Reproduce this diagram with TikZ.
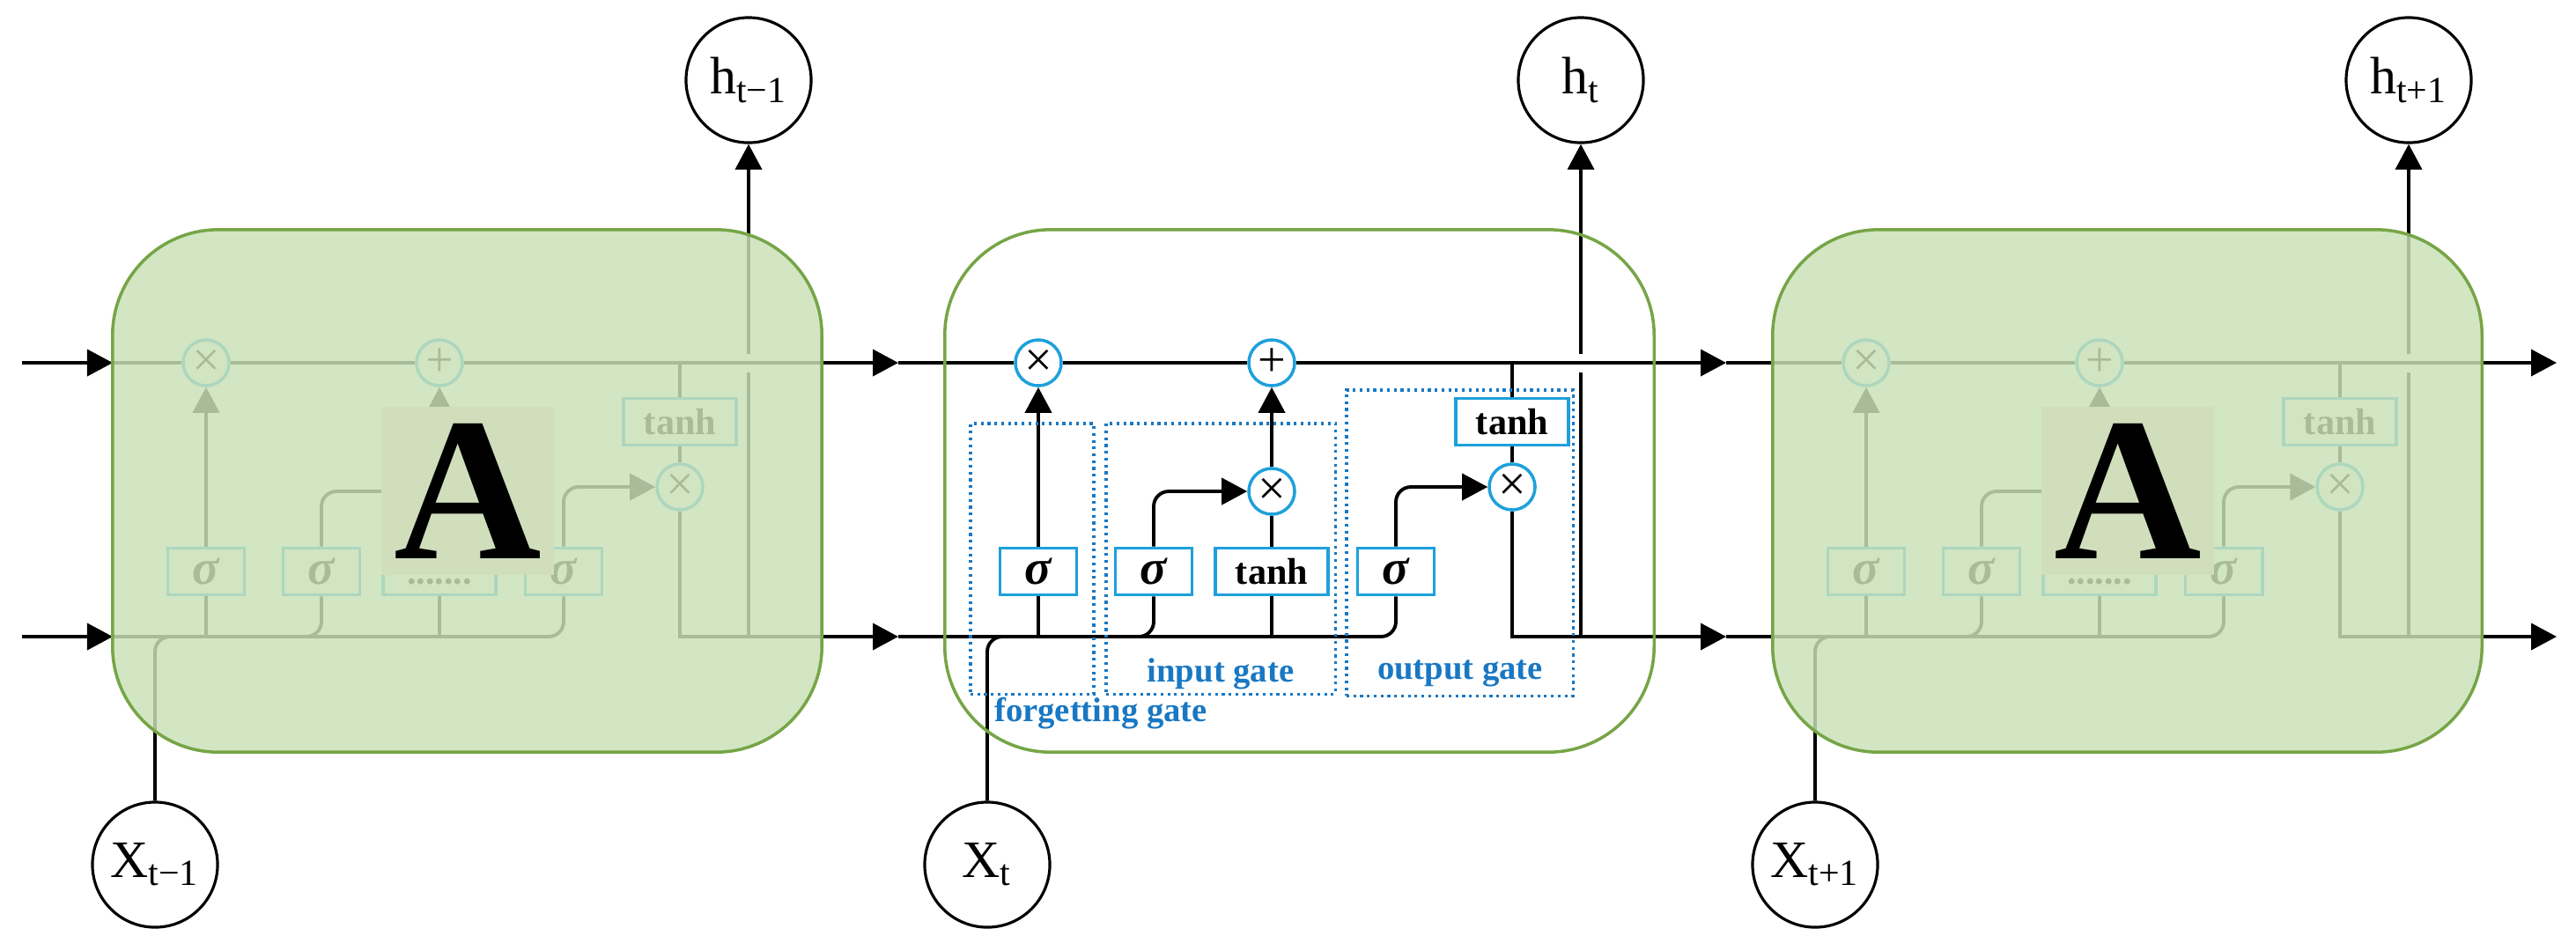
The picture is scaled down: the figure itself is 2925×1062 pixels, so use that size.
\documentclass[tikz,border=0pt]{standalone}
\usepackage{fontspec}
\setmainfont{Liberation Serif}
\usetikzlibrary{arrows.meta}

\definecolor{cellgreen}{RGB}{201,225,184}
\definecolor{celledge}{RGB}{118,165,70}
\definecolor{asquare}{RGB}{208,222,188}
\definecolor{gatecyan}{RGB}{30,160,220}
\definecolor{gateblue}{RGB}{25,120,195}
\newcommand{\fadedots}{\vphantom{tanh}.......}

\begin{document}
\begin{tikzpicture}[x=0.01cm, y=-0.01cm,
    wire/.style={line width=1.1pt},
    arr/.style={wire, -{Triangle[length=2.9mm, width=3mm]}},
    op/.style={circle, draw=gatecyan, line width=1pt, fill=white, minimum size=5.2mm, inner sep=0pt, font=\fontsize{16}{16}\selectfont},
    gatebox/.style={draw=gatecyan, line width=1.1pt, fill=white, minimum height=5.3mm, inner sep=0pt},
    sig/.style={gatebox, minimum width=8.7mm, font=\fontsize{16}{16}\selectfont\bfseries\itshape},
    tanhbox/.style={gatebox, minimum width=12.8mm, font=\fontsize{12}{12}\selectfont\bfseries},
    io/.style={circle, draw, line width=0.9pt, fill=white, minimum size=14.2mm, inner sep=0pt, font=\fontsize{17}{17}\selectfont},
    cellbox/.style={draw=celledge, line width=1pt, rounded corners=1.2cm, minimum width=8.05cm, minimum height=5.93cm, inner sep=0pt},
    amark/.style={fill=asquare, minimum width=1.95cm, minimum height=1.91cm, inner sep=0pt, font=\fontsize{66}{66}\selectfont\bfseries},
    gatearea/.style={draw=gateblue, line width=0.9pt, dash pattern=on 0.9pt off 1.3pt},
    gatelabel/.style={text=gateblue, inner sep=0pt, font=\fontsize{11}{11}\selectfont\bfseries}]
    \useasboundingbox (0,0) rectangle (2925,1062);

    % Outputs and inputs
    \node[io] (hL) at (850,91) {h\textsubscript{t−1}};
    \node[io] (hC) at (1795,91) {h\textsubscript{t}};
    \node[io] (hR) at (2735,91) {h\textsubscript{t+1}};
    \node[io] (xL) at (176,982) {X\textsubscript{t−1}};
    \node[io] (xC) at (1121,982) {X\textsubscript{t}};
    \node[io] (xR) at (2061,982) {X\textsubscript{t+1}};

    % Arrow tips on the two long lines
    \coordinate (st) at (25,412);   \coordinate (sb) at (25,723);
    \coordinate (t0) at (128,412);  \coordinate (b0) at (128,723);
    \coordinate (t1) at (1020,412); \coordinate (b1) at (1020,723);
    \coordinate (t2) at (1960,412); \coordinate (b2) at (1960,723);
    \coordinate (t3) at (2903,412); \coordinate (b3) at (2903,723);
    \draw[arr] (st) -- (t0);
    \draw[arr] (sb) -- (b0);

    % Three cells, same inside
    \foreach \c/\xo/\p/\n/\midlbl in {L/128/0/1/\fadedots, C/1073/1/2/tanh, R/2013/2/3/\fadedots} {
        \begin{scope}[shift={(\xo,0)}]
            \node[op] (\c-mulf) at (106,412) {×};
            \node[op] (\c-add) at (371,412) {+};
            \node[op] (\c-muli) at (371,558) {×};
            \node[op] (\c-mulo) at (644,553) {×};
            \node[sig] (\c-sigf) at (106,649) {σ};
            \node[sig] (\c-sigi) at (237,649) {σ};
            \node[tanhbox] (\c-tanhi) at (371,649) {\midlbl};
            \node[sig] (\c-sigo) at (512,649) {σ};
            \node[tanhbox] (\c-tanho) at (644,479) {tanh};
            \coordinate (\c-fj) at (106,723);
            \coordinate (\c-hj) at (722,723);
            \coordinate (\c-hb) at (722,423);
            \coordinate (\c-ht) at (722,402);
        \end{scope}
        % cell state
        \draw[wire] (t\p) -- (\c-mulf);
        \draw[wire] (\c-mulf) -- (\c-add);
        \draw[arr] (\c-add) -- (t\n);
        % hidden state and input
        \draw[wire, rounded corners=1.7mm] (b\p) -| (\c-sigo);
        \draw[arr] (\c-mulo) |- (b\n);
        \draw[wire, rounded corners=1.7mm] (x\c) |- (\c-fj);
        % gates
        \draw[wire] (\c-sigf) -- (\c-fj);
        \draw[arr] (\c-sigf) -- (\c-mulf);
        \draw[wire, rounded corners=1.7mm] (\c-fj) -| (\c-sigi);
        \draw[arr, rounded corners=1.7mm] (\c-sigi) |- (\c-muli);
        \draw[wire] (\c-tanhi) -- (\c-tanhi |- \c-fj);
        \draw[wire] (\c-tanhi) -- (\c-muli);
        \draw[arr] (\c-muli) -- (\c-add);
        \draw[arr, rounded corners=1.7mm] (\c-sigo) |- (\c-mulo);
        \draw[wire] (\c-tanho) -- (\c-tanho |- \c-add);
        \draw[wire] (\c-tanho) -- (\c-mulo);
        % output line, broken where it crosses the cell state
        \draw[wire] (\c-hj) -- (\c-hb);
        \draw[arr] (\c-ht) -- (h\c);
    }

    % Faded neighbour cells
    \foreach \c/\xo in {L/128, R/2013} {
        \node[cellbox, fill=cellgreen, fill opacity=0.84] (box\c) at ({\xo+402.5},557.5) {};
        \node[amark] (a\c) at ({\xo+403},557.5) {A};
    }
    \node[cellbox] (boxC) at (1475.5,557.5) {};

    % Gate areas of the middle cell
    \node[gatearea, minimum width=1.4cm, minimum height=3.07cm] (fgate) at (1172,634.5) {};
    \node[gatearea, minimum width=2.6cm, minimum height=3.07cm] (igate) at (1386,634.5) {};
    \node[gatearea, minimum width=2.57cm, minimum height=3.47cm] (ogate) at (1657.5,616.5) {};
    \node[gatelabel] (ilbl) at (1386,765) {input gate};
    \node[gatelabel] (olbl) at (1658,765) {output gate};
    \node[gatelabel] (flbl) at (1250,810) {forgetting gate};
\end{tikzpicture}
\end{document}
